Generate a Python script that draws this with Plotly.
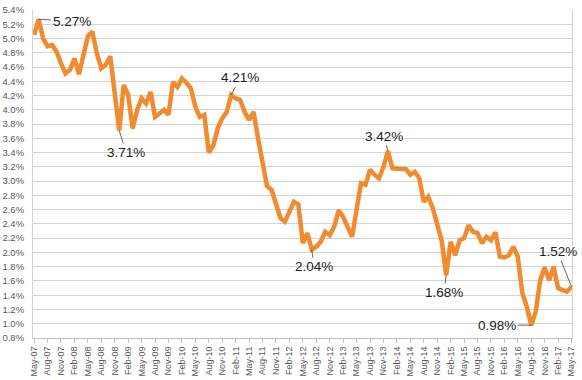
import pandas as pd
import plotly.graph_objects as go

months = pd.date_range("2007-05-01", periods=121, freq="MS").strftime("%b-%y").tolist()

values = [
    5.05, 5.27, 5.00, 4.89, 4.91, 4.82, 4.65, 4.51, 4.56, 4.72,
    4.50, 4.80, 5.03, 5.10, 4.79, 4.58, 4.63, 4.75, 4.23, 3.71,
    4.35, 4.21, 3.74, 4.00, 4.16, 4.09, 4.25, 3.90, 3.95, 4.00,
    3.93, 4.39, 4.32, 4.44, 4.38, 4.30, 4.04, 3.90, 3.93, 3.40,
    3.50, 3.74, 3.88, 3.97, 4.21, 4.16, 4.14, 3.97, 3.86, 3.97,
    3.60, 3.30, 2.93, 2.88, 2.69, 2.48, 2.43, 2.59, 2.71, 2.67,
    2.13, 2.27, 2.04, 2.08, 2.15, 2.29, 2.24, 2.36, 2.59, 2.50,
    2.36, 2.22, 2.60, 2.97, 2.95, 3.16, 3.09, 3.04, 3.20, 3.42,
    3.18, 3.17, 3.17, 3.17, 3.09, 3.13, 3.04, 2.71, 2.78, 2.62,
    2.41, 2.17, 1.68, 2.15, 1.96, 2.17, 2.20, 2.38, 2.29, 2.27,
    2.13, 2.22, 2.17, 2.28, 1.94, 1.93, 1.96, 2.08, 1.94, 1.43,
    1.24, 0.98, 1.17, 1.61, 1.79, 1.61, 1.80, 1.50, 1.47, 1.45,
    1.52,
]

tick_labels = months[::3]
y_ticks = [round(0.8 + 0.2 * k, 1) for k in range(24)]

# labelled points: (index, text offset x, text offset y)
callouts = [(1, 33, 2), (19, 7, 22), (44, 9, -17), (62, 2, 17),
            (79, -4, -15), (92, -2, 17), (111, -34, 0), (120, -14, -35)]

fig = go.Figure()
fig.add_trace(go.Scatter(
    x=months, y=values, mode="lines",
    line=dict(color="#F28A30", width=4.5),
    hoverinfo="x+y", showlegend=False,
))

for idx, axo, ayo in callouts:
    fig.add_annotation(
        x=months[idx], y=values[idx], text=f"{values[idx]:.2f}%",
        showarrow=True, arrowhead=0, arrowwidth=0.8, arrowcolor="#404040",
        ax=axo, ay=ayo, standoff=0, startstandoff=0,
        font=dict(family="Liberation Sans, Arial, sans-serif", size=13.5, color="#222222"),
    )

fig.update_layout(
    width=582, height=380,
    margin=dict(l=33, r=10, t=10, b=42),
    paper_bgcolor="white", plot_bgcolor="white",
    font=dict(family="Liberation Sans, Arial, sans-serif", color="#595959"),
    xaxis=dict(
        type="category", range=[-0.25, 120.1], automargin=False,
        tickmode="array", tickvals=tick_labels, ticktext=tick_labels,
        tickangle=-90, tickfont=dict(size=9, color="#595959"),
        showgrid=False, showline=True, linecolor="#bfbfbf", linewidth=1,
        ticks="outside", ticklen=4, tickcolor="#bfbfbf",
        zeroline=False,
    ),
    yaxis=dict(
        range=[0.8, 5.4], tickmode="array", tickvals=y_ticks, automargin=False,
        ticktext=[f"{v:.1f}%" for v in y_ticks],
        tickfont=dict(size=9.5, color="#595959"),
        showgrid=True, gridcolor="#d4d4d4", gridwidth=1,
        showline=True, mirror=True, linecolor="#d4d4d4", linewidth=1,
        ticks="", ticklabelstandoff=6, zeroline=False,
    ),
)

fig.write_html("out.html", config={"displayModeBar": False},
               post_script="document.body.style.margin='0';")
